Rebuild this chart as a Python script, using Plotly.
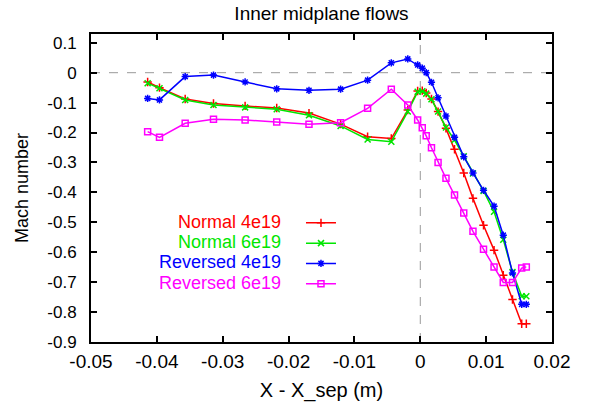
import plotly.graph_objects as go

# Shared radial positions X - X_sep (m)
x_sep = [-0.0414, -0.0396, -0.0357, -0.0314, -0.0266, -0.0218, -0.0169, -0.0121,
         -0.0080, -0.0044, -0.0019, -0.0004, 0.0003, 0.0009, 0.0017, 0.0027,
         0.0039, 0.0052, 0.0066, 0.0080, 0.0096, 0.0112, 0.0126, 0.0140,
         0.0154, 0.0161]

normal_4e19 = [-0.031, -0.050, -0.088, -0.103, -0.111, -0.118, -0.135, -0.172,
               -0.214, -0.220, -0.125, -0.061, -0.060, -0.068, -0.088, -0.130,
               -0.186, -0.256, -0.335, -0.420, -0.510, -0.593, -0.677, -0.758,
               -0.839, -0.839]

normal_6e19 = [-0.035, -0.052, -0.091, -0.108, -0.116, -0.122, -0.142, -0.178,
               -0.223, -0.231, -0.130, -0.064, -0.062, -0.070, -0.089, -0.130,
               -0.183, -0.225, -0.279, -0.337, -0.395, -0.465, -0.558, -0.666,
               -0.747, -0.747]

reversed_4e19 = [-0.086, -0.091, -0.013, -0.008, -0.031, -0.054, -0.059, -0.055,
                 -0.025, 0.033, 0.046, 0.026, 0.015, 0.000, -0.032, -0.084,
                 -0.145, -0.216, -0.281, -0.335, -0.393, -0.446, -0.543, -0.669,
                 -0.774, -0.774]

reversed_6e19 = [-0.197, -0.216, -0.169, -0.156, -0.158, -0.165, -0.172, -0.167,
                 -0.119, -0.055, -0.108, -0.158, -0.184, -0.211, -0.251, -0.300,
                 -0.353, -0.409, -0.469, -0.530, -0.590, -0.649, -0.701, -0.701,
                 -0.653, -0.649]

series_names = ["Normal 4e19", "Normal 6e19", "Reversed 4e19", "Reversed 6e19"]
series_colors = ["#ff0000", "#00e600", "#0000ff", "#ff00ff"]
series_symbols = ["cross-thin-open", "x-thin-open", "asterisk-open", "square-open"]

x_tickvals = [-0.05, -0.04, -0.03, -0.02, -0.01, 0.0, 0.01, 0.02]
x_ticktext = ["-0.05", "-0.04", "-0.03", "-0.02", "-0.01", "0", "0.01", "0.02"]
y_tickvals = [0.1, 0.0, -0.1, -0.2, -0.3, -0.4, -0.5, -0.6, -0.7, -0.8, -0.9]
y_ticktext = ["0.1", "0", "-0.1", "-0.2", "-0.3", "-0.4", "-0.5", "-0.6", "-0.7", "-0.8", "-0.9"]

FONT = "Liberation Sans, Arial, sans-serif"

fig = go.Figure()
all_y = [normal_4e19, normal_6e19, reversed_4e19, reversed_6e19]
for name, ys, col, sym in zip(series_names, all_y, series_colors, series_symbols):
    fig.add_trace(go.Scatter(
        x=x_sep, y=ys, mode="lines+markers", name=" ",
        line=dict(color=col, width=1.5),
        marker=dict(symbol=sym, size=6, color=col, line=dict(color=col, width=1.5)),
        showlegend=True,
    ))

# zero reference lines
fig.add_hline(y=0, line=dict(color="#999999", width=1, dash="dash"), layer="below")
fig.add_vline(x=0, line=dict(color="#999999", width=1, dash="dash"), layer="below")

# legend labels (right-aligned, coloured like gnuplot key)
leg_y = [0.3906, 0.3247, 0.2587, 0.1925]
for name, col, yy in zip(series_names, series_colors, leg_y):
    fig.add_annotation(x=0.4165, y=yy, xref="paper", yref="paper", text=name,
                       showarrow=False, xanchor="right", yanchor="middle",
                       font=dict(family=FONT, size=18, color=col))

axis_common = dict(showline=True, linecolor="black", linewidth=2, mirror="allticks",
                   ticks="inside", ticklen=6, tickwidth=1.5, tickcolor="black",
                   showgrid=False, zeroline=False, automargin=False)

fig.update_layout(
    width=591, height=406,
    margin=dict(l=91, r=39, t=34, b=64),
    paper_bgcolor="white", plot_bgcolor="white",
    title=dict(text="Inner midplane flows", x=0.544, xanchor="center", y=0.968, yanchor="middle",
               font=dict(family=FONT, size=19, color="black")),
    xaxis=dict(range=[-0.05, 0.02], tickvals=x_tickvals, ticktext=x_ticktext,
               tickfont=dict(family=FONT, size=19, color="black"), ticklabelstandoff=1,
               title=dict(text="X - X_sep (m)", font=dict(family=FONT, size=20, color="black"), standoff=12),
               **axis_common),
    yaxis=dict(range=[-0.9, 0.1293], tickvals=y_tickvals, ticktext=y_ticktext,
               tickfont=dict(family=FONT, size=17, color="black"), ticklabelstandoff=9,
               title=dict(text="Mach number", font=dict(family=FONT, size=18, color="black"), standoff=14),
               **axis_common),
    legend=dict(x=0.4555, y=0.436, xanchor="left", yanchor="top", bgcolor="rgba(0,0,0,0)",
                font=dict(family=FONT, size=13.3), itemwidth=30, tracegroupgap=0,
                borderwidth=0),
    showlegend=True,
)

fig.write_html("out.html")
